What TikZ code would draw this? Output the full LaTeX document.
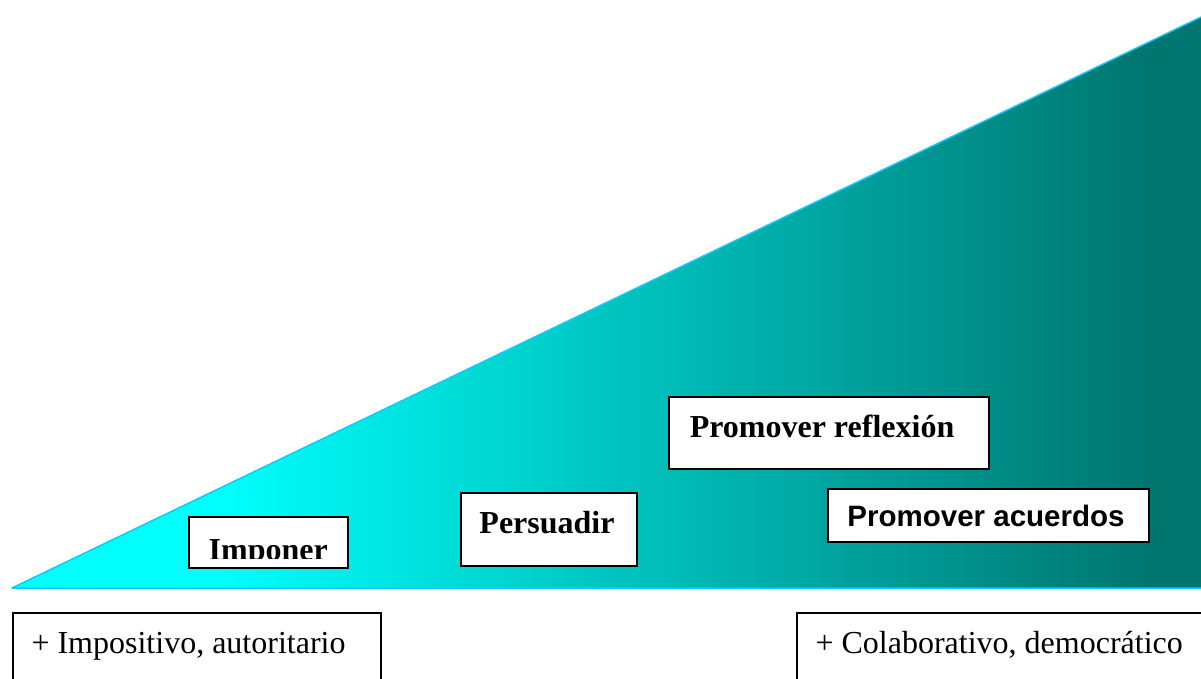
\documentclass[tikz,border=0pt]{standalone}
\usepackage{fontspec}
\setmainfont{Liberation Serif}
\newfontfamily\arialfont{Liberation Sans}
\definecolor{cyanA}{RGB}{0,255,252}
\definecolor{tealA}{RGB}{0,118,112}
\definecolor{edgeblue}{RGB}{20,200,255}
\pgfdeclarehorizontalshading{wedge}{100bp}{color(0bp)=(cyanA); color(33.7bp)=(cyanA); color(72.5bp)=(tealA); color(100bp)=(tealA)}
\tikzset{
  box/.style={draw=black, line width=1.6pt, fill=white, inner sep=0pt, anchor=north west},
  lbl/.style={font=\fontsize{32}{38}\selectfont\bfseries, anchor=base},
  lblsans/.style={font=\arialfont\fontsize{29.5}{35}\selectfont\bfseries, anchor=base},
  lblplain/.style={font=\fontsize{32}{38}\selectfont, anchor=base west},
}
\begin{document}
\begin{tikzpicture}[x=1pt,y=-1pt]
\useasboundingbox (0,0) rectangle (1201,679);
\clip (0,0) rectangle (1201,679);
% wedge
\coordinate (L) at (12,588);
\coordinate (T) at (1201,17);
\coordinate (R) at (1201,588);
\shade[shading=wedge] (L) -- (T) -- (R) -- cycle;
\draw[edgeblue, line width=1.5pt, line join=round] (R) -- (L) -- (T);
% Imponer
\node[box, minimum width=159pt, minimum height=51pt] (imp) at (188,516) {};
\begin{scope}
\clip (imp.north west) rectangle ([yshift=10pt]imp.south east);
\node[lbl] (impt) at ([yshift=-44pt]imp.north) {Imponer};
\end{scope}
% Persuadir
\node[box, minimum width=176pt, minimum height=73pt] (per) at (460,492) {};
\node[lbl] (pert) at (547,533) {Persuadir};
% Promover reflexion
\node[box, minimum width=320pt, minimum height=72pt] (ref) at (668,396) {};
\node[lbl] (reft) at (822,437) {Promover reflexión};
% Promover acuerdos
\node[box, minimum width=321pt, minimum height=53pt] (acu) at (827,488) {};
\node[lblsans] (acut) at (986,526) {Promover acuerdos};
% bottom boxes
\node[box, minimum width=368pt, minimum height=100pt] (aut) at (12,612) {};
\node[lblplain] (autt) at (28,653) {+ Impositivo, autoritario};
\node[box, minimum width=405pt, minimum height=100pt] (dem) at (796,612) {};
\node[lblplain] (demt) at (812,653) {+ Colaborativo, democrático};
\end{tikzpicture}
\end{document}
